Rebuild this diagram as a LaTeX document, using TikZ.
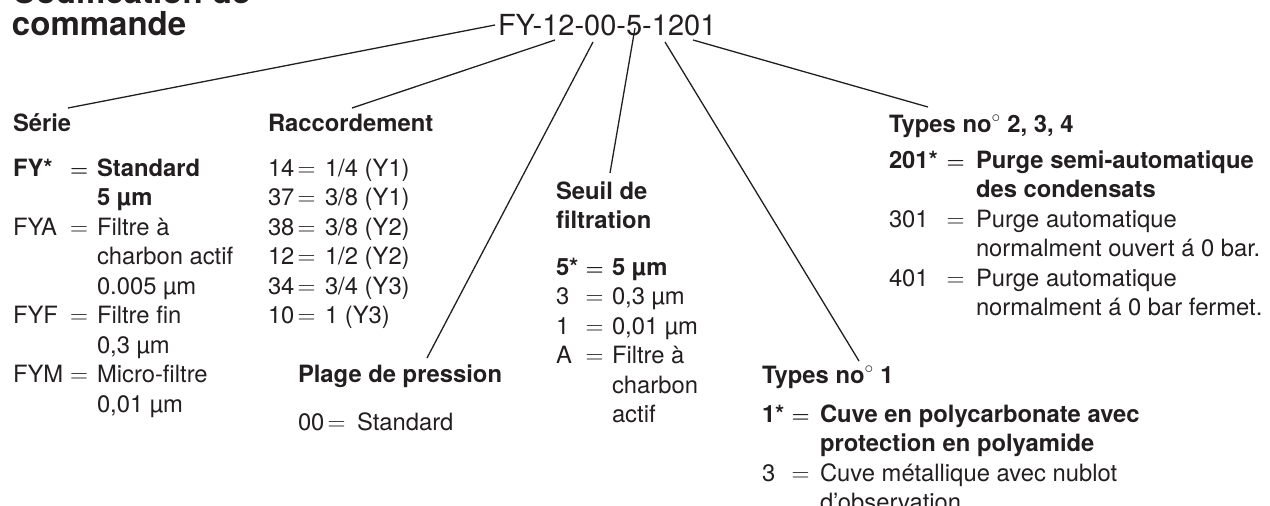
\documentclass[tikz,border=0pt]{standalone}
\usepackage{fontspec}
\setmainfont{TeX Gyre Heros}
\usepackage{array}
\definecolor{ink}{RGB}{35,31,32}
\newcommand{\bsz}{\fontsize{23.8}{29.5}\selectfont}
\newcommand{\eqr}{{\fontsize{25}{29.5}\selectfont$=$}}
\newcommand{\eqb}{{\fontsize{21.5}{29.5}\selectfont\boldmath$=$}}
\begin{document}
\begin{tikzpicture}[x=1pt,y=-1pt,
  txt/.style={anchor=base west,inner sep=0pt,outer sep=0pt,text=ink,font=\bsz},
  hdr/.style={txt,font=\bsz\bfseries},
  ttl/.style={txt,font=\fontsize{33}{32}\selectfont\bfseries},
  conn/.style={draw=ink,line width=1.3pt}]
\useasboundingbox (0,0) rectangle (1270,506);

% title and code
\node[ttl] (title1) at (12,4) {Codification de};
\node[ttl] (title2) at (12,35) {commande};
\node[txt,font=\fontsize{29}{32}\selectfont] (code) at (498,35) {FY-12-00-5-1201};

% Serie
\node[hdr] (hserie) at (13,131) {Série};
\node[txt] (bserie) at (13,176) {\begin{tabular}[t]{@{}p{57pt}@{}p{27pt}@{}l@{}}
\bfseries FY* & \eqb & \bfseries Standard\\
 & & \bfseries 5 µm\\
FYA & \eqr & Filtre à\\
 & & charbon actif\\
 & & 0.005 µm\\
FYF & \eqr & Filtre fin\\
 & & 0,3 µm\\
FYM & \eqr & Micro-filtre\\
 & & 0,01 µm
\end{tabular}};

% Raccordement
\node[hdr] (hracc) at (268,131) {Raccordement};
\node[txt] (bracc) at (268,176) {\begin{tabular}[t]{@{}p{29.5pt}@{}p{27.5pt}@{}l@{}}
14 & \eqr & 1/4 (Y1)\\
37 & \eqr & 3/8 (Y1)\\
38 & \eqr & 3/8 (Y2)\\
12 & \eqr & 1/2 (Y2)\\
34 & \eqr & 3/4 (Y3)\\
10 & \eqr & 1 (Y3)
\end{tabular}};

% Plage de pression
\node[hdr] (hplage) at (298,382) {Plage de pression};
\node[txt] (bplage) at (298,430) {\begin{tabular}[t]{@{}p{29.5pt}@{}p{29.5pt}@{}l@{}}
00 & \eqr & Standard
\end{tabular}};

% Seuil de filtration
\node[hdr] (hseuil) at (556,199) {\begin{tabular}[t]{@{}l@{}}Seuil de\\filtration\end{tabular}};
\node[txt] (bseuil) at (556,275) {\begin{tabular}[t]{@{}p{29.6pt}@{}p{26.4pt}@{}l@{}}
\bfseries 5* & \eqb & \bfseries 5 µm\\
3 & \eqr & 0,3 µm\\
1 & \eqr & 0,01 µm\\
A & \eqr & Filtre à\\
 & & charbon\\
 & & actif
\end{tabular}};

% Types no 1
\node[hdr] (htype1) at (762,383) {Types no$^\circ$ 1};
\node[txt] (btype1) at (762,422) {\begin{tabular}[t]{@{}p{29.6pt}@{}p{28.4pt}@{}l@{}}
\bfseries 1* & \eqb & \bfseries Cuve en polycarbonate avec\\
 & & \bfseries protection en polyamide\\
3 & \eqr & Cuve métallique avec nublot\\
 & & d’observation
\end{tabular}};

% Types no 2, 3, 4
\node[hdr] (htype2) at (889,132) {Types no$^\circ$ 2, 3, 4};
\node[txt] (btype2) at (889,168) {\begin{tabular}[t]{@{}p{57.6pt}@{}p{29.4pt}@{}l@{}}
\bfseries 201* & \eqb & \bfseries Purge semi-automatique\\
 & & \bfseries des condensats\\
301 & \eqr & Purge automatique\\
 & & normalment ouvert á 0 bar.\\
401 & \eqr & Purge automatique\\
 & & normalment á 0 bar fermet.
\end{tabular}};

% connector end points
\coordinate (s1) at (495,25);  \coordinate (e1) at (68,108);
\coordinate (s2) at (555,40);  \coordinate (e2) at (352,108);
\coordinate (s3) at (593,42);  \coordinate (e3) at (427,358);
\coordinate (s4) at (635,28);  \coordinate (e4) at (610,173);
\coordinate (s5) at (665,42);  \coordinate (e5) at (859,361);
\coordinate (s6) at (693,40);  \coordinate (e6) at (928,107);

\draw[conn] (s1) -- (e1);
\draw[conn] (s2) -- (e2);
\draw[conn] (s3) -- (e3);
\draw[conn] (s4) -- (e4);
\draw[conn] (s5) -- (e5);
\draw[conn] (s6) -- (e6);
\end{tikzpicture}
\end{document}
